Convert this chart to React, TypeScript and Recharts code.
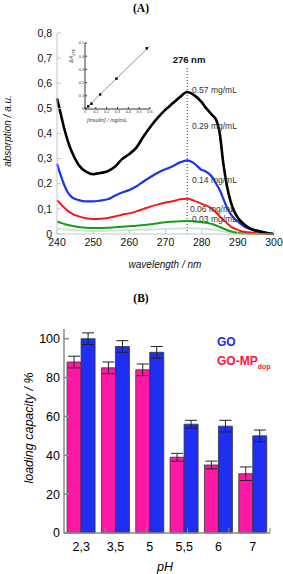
import React from 'react';
import {
  LineChart, Line, XAxis, YAxis, ReferenceLine, ComposedChart, Scatter,
  BarChart, Bar, ErrorBar,
} from 'recharts';

// ---------- Panel A data ----------
const wavelengths = [240, 241, 242, 243, 244, 246, 248, 250, 252, 254, 256, 258, 260, 262, 264, 266, 268, 270, 272, 274, 276, 278, 280, 281, 282, 283, 284, 285, 286, 287, 288, 289, 290, 292, 294, 296, 298, 300];
const abs057 = [0.54, 0.48, 0.42, 0.37, 0.33, 0.275, 0.248, 0.238, 0.243, 0.25, 0.268, 0.298, 0.318, 0.345, 0.39, 0.43, 0.465, 0.495, 0.52, 0.545, 0.565, 0.552, 0.525, 0.505, 0.488, 0.472, 0.455, 0.4, 0.28, 0.19, 0.13, 0.09, 0.065, 0.035, 0.018, 0.01, 0.004, 0];
const abs029 = [0.28, 0.235, 0.195, 0.165, 0.148, 0.135, 0.13, 0.13, 0.133, 0.138, 0.152, 0.165, 0.175, 0.19, 0.21, 0.228, 0.245, 0.258, 0.27, 0.285, 0.293, 0.28, 0.255, 0.25, 0.24, 0.225, 0.2, 0.175, 0.14, 0.105, 0.08, 0.062, 0.05, 0.028, 0.018, 0.012, 0.005, 0];
const abs014 = [0.135, 0.12, 0.105, 0.092, 0.082, 0.07, 0.063, 0.06, 0.061, 0.064, 0.07, 0.077, 0.082, 0.09, 0.1, 0.11, 0.118, 0.125, 0.13, 0.138, 0.14, 0.132, 0.12, 0.115, 0.108, 0.098, 0.085, 0.07, 0.056, 0.043, 0.03, 0.022, 0.016, 0.008, 0.005, 0.003, 0, 0];
const abs006 = [0.05, 0.045, 0.04, 0.036, 0.033, 0.028, 0.025, 0.024, 0.024, 0.025, 0.027, 0.029, 0.031, 0.033, 0.036, 0.039, 0.043, 0.047, 0.049, 0.051, 0.052, 0.05, 0.047, 0.045, 0.043, 0.039, 0.034, 0.028, 0.022, 0.016, 0.011, 0.007, 0.004, 0.002, 0.001, 0, 0, 0];
const abs003 = [0.022, 0.02, 0.018, 0.017, 0.015, 0.014, 0.013, 0.012, 0.012, 0.013, 0.014, 0.015, 0.015, 0.016, 0.017, 0.018, 0.019, 0.02, 0.021, 0.022, 0.022, 0.022, 0.021, 0.02, 0.02, 0.018, 0.016, 0.013, 0.01, 0.008, 0.006, 0.004, 0.003, 0.001, 0, 0, 0, 0];
const wlTicks = [240, 250, 260, 270, 280, 290, 300];
const absTicks = [0, 0.1, 0.2, 0.3, 0.4, 0.5, 0.6, 0.7, 0.8];

const spectra = wavelengths.map((wl, i) => ({
  wl, a057: abs057[i], a029: abs029[i], a014: abs014[i], a006: abs006[i], a003: abs003[i],
}));

// inset calibration
const insulinConc = [0.03, 0.06, 0.14, 0.29, 0.57];
const deltaA276 = [0.02, 0.04, 0.11, 0.23, 0.46];
const fitConc = [0, 0.6];
const fitA = [0, 0.478];
const insetPoints = insulinConc.map((c, i) => ({ c, a: deltaA276[i] }));
const fitPoints = fitConc.map((c, i) => ({ c, a: fitA[i] }));
const insetXTicks = [0, 0.1, 0.2, 0.3, 0.4, 0.5, 0.6];
const insetYTicks = [0, 0.1, 0.2, 0.3, 0.4, 0.5];

// ---------- Panel B data ----------
const phLabels = ['2,3', '3,5', '5', '5,5', '6', '7'];
const loadGOMP = [88, 85, 84, 39, 35, 30.5];
const errGOMP = [3, 3, 3, 2, 2, 3.5];
const loadGO = [100, 96, 93, 56, 55, 50];
const errGO = [3, 3, 3, 2, 3, 3];
const loadTicks = [0, 20, 40, 60, 80, 100];
const bandEdges = [1, 2, 3, 4, 5];

const loading = phLabels.map((ph, i) => ({
  ph, mp: loadGOMP[i], mpErr: errGOMP[i], go: loadGO[i], goErr: errGO[i],
}));

const SANS = '"Liberation Sans", Arial, Helvetica, sans-serif';
const SERIF = '"Liberation Serif", "Times New Roman", serif';
const frameA = '#c6c6c6';
const frameB = '#8a8a8a';
const PINK = '#ff18a6';
const BLUE = '#1e2ef2';

const commaFmt = (v: number) => (v === 0 ? '0' : v.toFixed(1).replace('.', ','));
const blank = () => '';

const SquareDot = (props: any) => {
  const { cx, cy } = props;
  return <rect x={cx - 1.2} y={cy - 1.2} width={2.4} height={2.4} fill="#000" />;
};

export default function App() {
  return (
    <div style={{ position: 'absolute', left: 0, top: 0, width: 283, height: 574, background: '#fff', overflow: 'hidden' }}>
      {/* Panel A */}
      <div style={{ position: 'absolute', left: 0, top: 0 }}>
        <LineChart width={283} height={280} data={spectra} margin={{ top: 33, right: 9, bottom: 0, left: 0 }}>
          <XAxis xAxisId="b" dataKey="wl" type="number" domain={[240, 300]} ticks={wlTicks}
            height={46} tickSize={-4} tickMargin={9} stroke={frameA}
            tick={{ fontSize: 10.5, fill: '#111', fontFamily: SANS }} />
          <XAxis xAxisId="t" orientation="top" type="number" domain={[240, 300]} ticks={wlTicks}
            allowDataOverflow height={0} tickSize={-4} tickFormatter={blank} stroke={frameA} />
          <YAxis yAxisId="l" type="number" domain={[0, 0.8]} ticks={absTicks} width={57}
            tickSize={-4} tickMargin={9} tickFormatter={commaFmt} stroke={frameA}
            tick={{ fontSize: 10.5, fill: '#111', fontFamily: SANS }} />
          <YAxis yAxisId="r" orientation="right" type="number" domain={[0, 0.8]} ticks={absTicks}
            allowDataOverflow width={0} tickSize={-4} tickFormatter={blank} stroke={frameA} />
          <ReferenceLine xAxisId="b" yAxisId="l" segment={[{ x: 276, y: 0 }, { x: 276, y: 0.665 }]}
            stroke="#333" strokeDasharray="1 2" strokeWidth={1} />
          <Line xAxisId="b" yAxisId="l" dataKey="a003" type="monotone" stroke="#cfe2d6" strokeWidth={1.8} dot={false} isAnimationActive={false} />
          <Line xAxisId="b" yAxisId="l" dataKey="a006" type="monotone" stroke="#14a014" strokeWidth={2} dot={false} isAnimationActive={false} />
          <Line xAxisId="b" yAxisId="l" dataKey="a014" type="monotone" stroke="#f41818" strokeWidth={2} dot={false} isAnimationActive={false} />
          <Line xAxisId="b" yAxisId="l" dataKey="a029" type="monotone" stroke="#1e32f0" strokeWidth={2.2} dot={false} isAnimationActive={false} />
          <Line xAxisId="b" yAxisId="l" dataKey="a057" type="monotone" stroke="#000" strokeWidth={2.6} dot={false} isAnimationActive={false} />
        </LineChart>
      </div>

      {/* Inset */}
      <div style={{ position: 'absolute', left: 60, top: 36 }}>
        <ComposedChart width={95} height={90} data={insetPoints} margin={{ top: 7, right: 5, bottom: 0, left: 0 }}>
          <XAxis xAxisId="x" dataKey="c" type="number" domain={[0, 0.6]} ticks={insetXTicks} height={17}
            tickSize={-2} tickMargin={3} stroke="#222" strokeWidth={0.9} tick={{ fontSize: 3.8, fill: '#333', fontFamily: SANS }} />
          <XAxis xAxisId="t" orientation="top" type="number" domain={[0, 0.6]} ticks={insetXTicks}
            allowDataOverflow height={0} tickSize={-2} tickFormatter={blank} stroke="#222" strokeWidth={0.9} />
          <YAxis yAxisId="y" type="number" domain={[0, 0.5]} ticks={insetYTicks} width={25}
            tickSize={-2} tickMargin={3} stroke="#222" strokeWidth={0.9} tick={{ fontSize: 3.8, fill: '#333', fontFamily: SANS }} />
          <YAxis yAxisId="r" orientation="right" type="number" domain={[0, 0.5]} ticks={insetYTicks}
            allowDataOverflow width={0} tickSize={-2} tickFormatter={blank} stroke="#222" strokeWidth={0.9} />
          <Line xAxisId="x" yAxisId="y" data={fitPoints} dataKey="a" type="linear" stroke="#777" strokeWidth={0.8} dot={false} isAnimationActive={false} />
          <Scatter xAxisId="x" yAxisId="y" data={insetPoints} dataKey="a" shape={<SquareDot />} isAnimationActive={false} />
        </ComposedChart>
      </div>

      {/* Panel B */}
      <div style={{ position: 'absolute', left: 0, top: 280 }}>
        <BarChart width={283} height={294} data={loading} margin={{ top: 49, right: 13, bottom: 0, left: 0 }}
          barCategoryGap="9%" barGap={0}>
          <XAxis xAxisId="cat" dataKey="ph" height={41} tickLine={false} tickMargin={3}
            stroke={frameB} strokeWidth={1.5} tick={{ fontSize: 12.5, fill: '#000', fontFamily: SANS }} />
          <XAxis xAxisId="nt" orientation="top" type="number" domain={[0, 6]} ticks={bandEdges}
            allowDataOverflow height={0} tickSize={-5} tickFormatter={blank} stroke={frameB} strokeWidth={1.5} />
          <YAxis yAxisId="l" type="number" domain={[0, 105]} ticks={loadTicks} width={64}
            tickSize={-5} tickMargin={9} stroke={frameB} strokeWidth={1.5}
            tick={{ fontSize: 12.5, fill: '#000', fontFamily: SANS }} />
          <YAxis yAxisId="r" orientation="right" type="number" domain={[0, 105]} ticks={loadTicks}
            allowDataOverflow width={0} tickSize={-5} tickFormatter={blank} stroke={frameB} strokeWidth={1.5} />
          {bandEdges.map((e) => (
            <ReferenceLine key={e} xAxisId="nt" yAxisId="l" segment={[{ x: e, y: 0 }, { x: e, y: 2.7 }]}
              stroke={frameB} strokeWidth={1} />
          ))}
          <Bar xAxisId="cat" yAxisId="l" dataKey="mp" fill={PINK} stroke="#333" strokeWidth={0.8} isAnimationActive={false}>
            <ErrorBar dataKey="mpErr" width={6} stroke="#222" strokeWidth={1} />
          </Bar>
          <Bar xAxisId="cat" yAxisId="l" dataKey="go" fill={BLUE} stroke="#333" strokeWidth={0.8} isAnimationActive={false}>
            <ErrorBar dataKey="goErr" width={6} stroke="#222" strokeWidth={1} />
          </Bar>
        </BarChart>
      </div>

      {/* Text overlay */}
      <svg width={283} height={574} style={{ position: 'absolute', left: 0, top: 0, pointerEvents: 'none' }}>
        <text x={141} y={12} textAnchor="middle" fontFamily={SERIF} fontWeight="bold" fontSize={11.5}>(A)</text>
        <text x={141} y={302} textAnchor="middle" fontFamily={SERIF} fontWeight="bold" fontSize={11.5}>(B)</text>

        <text transform="translate(11,131) rotate(-90)" textAnchor="middle" fontFamily={SANS} fontStyle="italic" fontSize={10} fill="#111">absorption / a.u.</text>
        <text x={165} y={268} textAnchor="middle" fontFamily={SANS} fontStyle="italic" fontSize={10} fill="#111">wavelength / nm</text>

        <text x={189} y={63} textAnchor="middle" fontFamily={SANS} fontWeight="bold" fontSize={9.5} fill="#111">276 nm</text>
        <text x={192} y={93} fontFamily={SANS} fontSize={8.5} fill="#333">0.57 mg/mL</text>
        <text x={192} y={129} fontFamily={SANS} fontSize={8.5} fill="#333">0.29 mg/mL</text>
        <text x={192} y={183} fontFamily={SANS} fontSize={8.5} fill="#333">0.14 mg/mL</text>
        <text x={190} y={212} fontFamily={SANS} fontSize={8.5} fill="#333">0.06 mg/mL</text>
        <text x={192} y={222} fontFamily={SANS} fontSize={8.5} fill="#333">0.03 mg/mL</text>

        <text transform="translate(73,56) rotate(-90)" textAnchor="middle" fontFamily={SANS} fontStyle="italic" fontSize={5.5} fill="#333">
          ΔA<tspan fontSize={4} dy={1.5}>276</tspan>
        </text>
        <text x={107} y={122} textAnchor="middle" fontFamily={SANS} fontStyle="italic" fontSize={5.5} fill="#333">[insulin] / mg/mL</text>

        <text transform="translate(33,428) rotate(-90)" textAnchor="middle" fontFamily={SANS} fontStyle="italic" fontSize={12.5} fill="#000">loading capacity / %</text>
        <text x={165} y={571} textAnchor="middle" fontFamily={SANS} fontStyle="italic" fontSize={12.5} fill="#000">pH</text>

        <text x={217} y={346} fontFamily={SANS} fontWeight="bold" fontSize={12} fill="#1a2ce6">GO</text>
        <text x={217} y={365} fontFamily={SANS} fontWeight="bold" fontSize={12} fill="#ff1040">GO-MP
          <tspan fontSize={7} dy={4}>dop</tspan>
        </text>
      </svg>
    </div>
  );
}
